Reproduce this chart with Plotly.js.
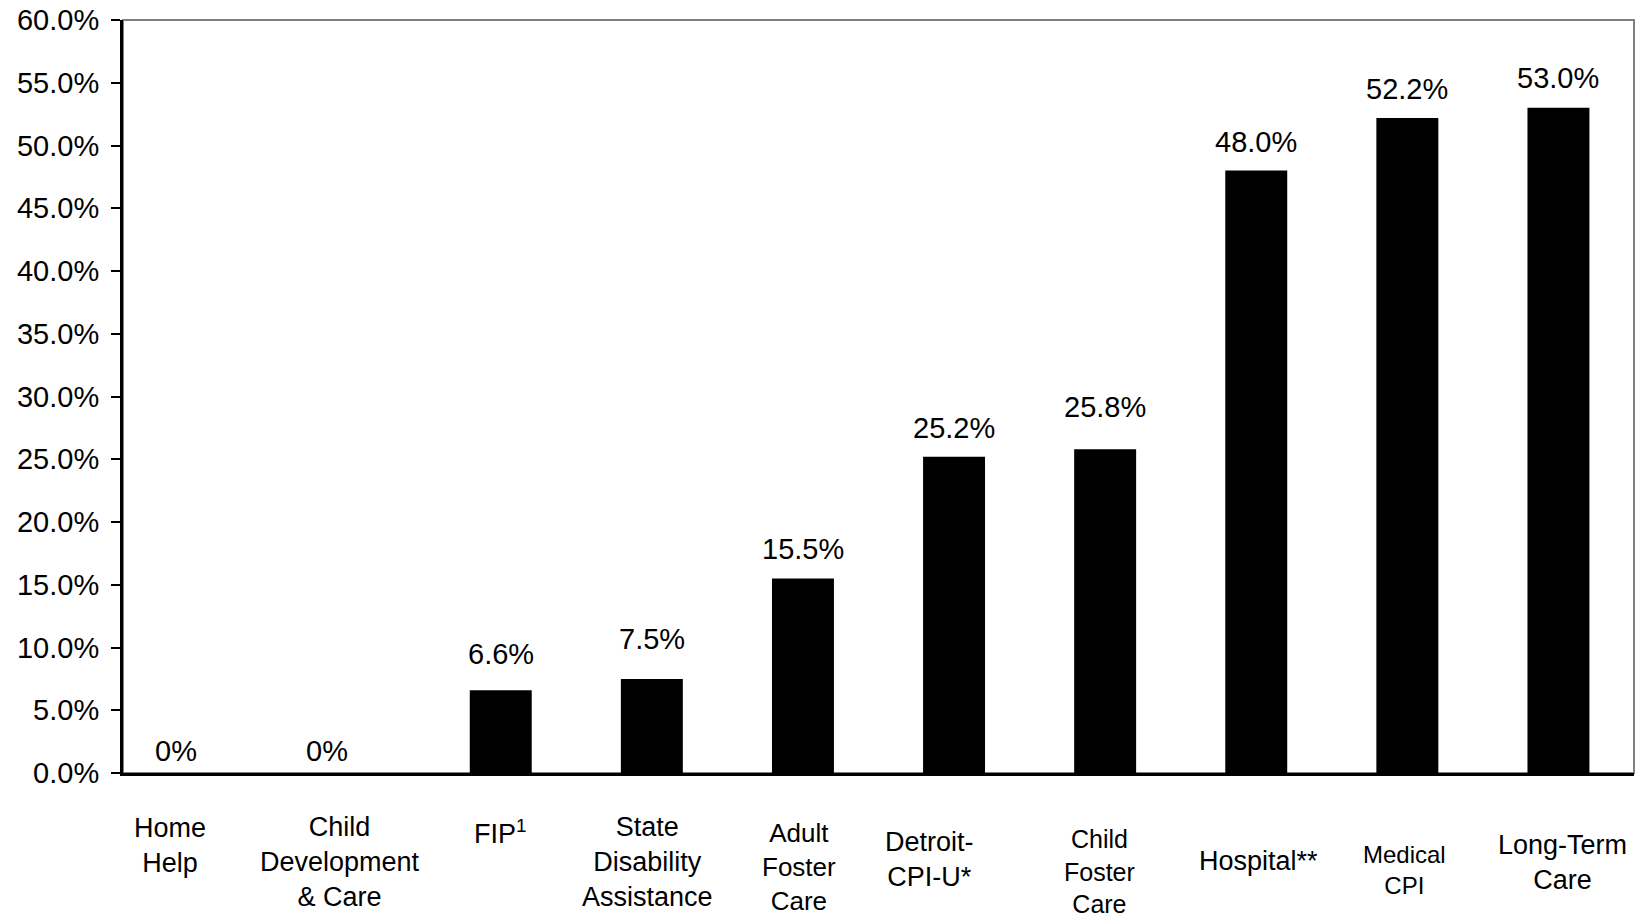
<!DOCTYPE html>
<html>
<head>
<meta charset="utf-8">
<script src="https://cdn.plot.ly/plotly-3.0.1.min.js"></script>
<style>html,body{margin:0;padding:0;background:#fff;}#chart{width:1636px;height:922px;}</style>
</head>
<body>
<div id="chart"></div>
<script>
// Data
const categories = ["Home Help", "Child Development & Care", "FIP", "State Disability Assistance", "Adult Foster Care", "Detroit-CPI-U*", "Child Foster Care", "Hospital**", "Medical CPI", "Long-Term Care"];
const categoryLabels = ["Home<br>Help", "Child<br>Development<br>& Care", "FIP<sup>1</sup>", "State<br>Disability<br>Assistance", "Adult<br>Foster<br>Care", "Detroit-<br>CPI-U*", "Child<br>Foster<br>Care", "Hospital**", "Medical<br>CPI", "Long-Term<br>Care"];
const values = [0, 0, 6.6, 7.5, 15.5, 25.2, 25.8, 48.0, 52.2, 53.0];
const valueLabels = ["0%", "0%", "6.6%", "7.5%", "15.5%", "25.2%", "25.8%", "48.0%", "52.2%", "53.0%"];
const yTickVals = [0, 5, 10, 15, 20, 25, 30, 35, 40, 45, 50, 55, 60];
const yTickText = ["0.0%", "5.0%", "10.0%", "15.0%", "20.0%", "25.0%", "30.0%", "35.0%", "40.0%", "45.0%", "50.0%", "55.0%", "60.0%"];

// Label placement tweaks (styling, not data)
const catXShift = [-29, -10, 0, -4, -4, -25, -6, 2, -3, 4];
const catYShift = [-72, -89, -59, -89, -94, -86, -98, -88, -97, -89];
const catSize = [27, 27, 27, 27, 26, 27, 25, 27, 24, 27];
const valXShift = [-23, -23, 0, 0, 0, 0, 0, 0, 0, 0];
const valYShift = [22, 22, 36, 40, 29, 29, 42, 29, 29, 30];

const trace = {
  type: "bar",
  x: categories,
  y: values,
  marker: {color: "#000000", line: {width: 0}},
  hoverinfo: "skip"
};

const annotations = [];
categories.forEach((c, i) => {
  annotations.push({
    x: c, xref: "x", y: values[i], yref: "y",
    text: valueLabels[i], showarrow: false,
    xanchor: "center", yanchor: "middle",
    xshift: valXShift[i], yshift: valYShift[i],
    font: {family: "Liberation Sans, Arial, sans-serif", size: 29, color: "#000"}
  });
  annotations.push({
    x: c, xref: "x", y: 0, yref: "paper",
    text: categoryLabels[i], showarrow: false,
    xanchor: "center", yanchor: "middle", align: "center",
    xshift: catXShift[i], yshift: catYShift[i],
    borderpad: 0,
    font: {family: "Liberation Sans, Arial, sans-serif", size: catSize[i], color: "#000"}
  });
});

const layout = {
  width: 1636, height: 922,
  margin: {l: 123, r: 2, t: 20, b: 149},
  paper_bgcolor: "#ffffff", plot_bgcolor: "#ffffff",
  showlegend: false,
  bargap: 0.59,
  font: {family: "Liberation Sans, Arial, sans-serif", color: "#000"},
  xaxis: {
    type: "category",
    showticklabels: false,
    ticks: "",
    showgrid: false,
    zeroline: false,
    showline: true, linecolor: "#000", linewidth: 3
  },
  yaxis: {
    range: [0, 60],
    tickvals: yTickVals, ticktext: yTickText,
    ticks: "outside", ticklen: 9, tickwidth: 2, tickcolor: "#000",
    ticklabelstandoff: 6,
    showgrid: false, zeroline: false,
    showline: true, linecolor: "#000", linewidth: 3,
    tickfont: {family: "Liberation Sans, Arial, sans-serif", size: 29, color: "#000"}
  },
  shapes: [{
    type: "rect", xref: "paper", yref: "paper", x0: 0, x1: 1, y0: 0, y1: 1,
    line: {color: "#808080", width: 2}, layer: "below"
  }],
  annotations: annotations
};

Plotly.newPlot("chart", [trace], layout, {displayModeBar: false, staticPlot: true});
</script>
</body>
</html>
